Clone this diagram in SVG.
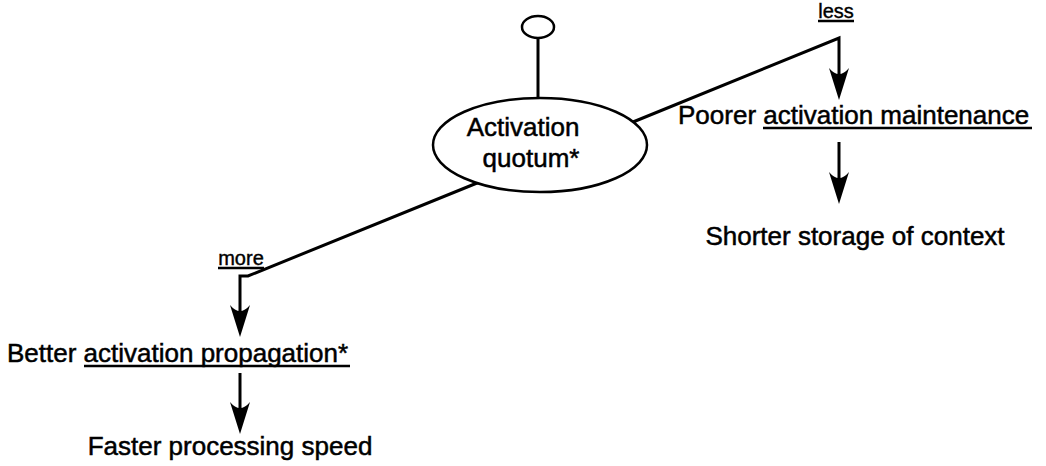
<svg xmlns="http://www.w3.org/2000/svg" width="1046" height="466" viewBox="0 0 1046 466">
  <defs>
    <style>
      .txt { font-family: "Liberation Sans", Arial, Helvetica, sans-serif; font-size: 26px; fill: #000; stroke: #000; stroke-width: 0.5; }
      .lbl { font-family: "Liberation Sans", Arial, Helvetica, sans-serif; font-size: 20px; fill: #000; stroke: #000; stroke-width: 0.4; }
      .ul { stroke: #000; stroke-width: 2.5; }
      .wire { fill: none; stroke: #000; stroke-width: 3; stroke-linejoin: miter; }
      .shape { fill: #fff; stroke: #000; stroke-width: 2.5; }
    </style>
    <!-- barbed arrowhead, tip at origin pointing down -->
    <path id="head" d="M0,0 L-10,-32 Q0,-20 10,-32 Z" fill="#000"/>
  </defs>
  <rect width="1046" height="466" fill="#fff"/>

  <g id="connectors">
    <!-- stem to the small terminal circle -->
    <line class="wire" x1="538" y1="38" x2="538" y2="99"/>
    <!-- "less" branch -->
    <polyline class="wire" points="633,122 839,38 839,86"/>
    <use href="#head" x="839" y="100"/>
    <line class="wire" x1="839" y1="142" x2="839" y2="190"/>
    <use href="#head" x="839" y="204"/>
    <!-- "more" branch -->
    <polyline class="wire" points="482,181 248,276 240,276 240,322"/>
    <use href="#head" x="240" y="337"/>
    <line class="wire" x1="240" y1="373" x2="240" y2="420"/>
    <use href="#head" x="240" y="434"/>
  </g>

  <g id="terminal">
    <ellipse class="shape" cx="538" cy="27" rx="16" ry="11"/>
  </g>

  <g id="quotum">
    <ellipse class="shape" cx="540" cy="145" rx="107" ry="47"/>
    <text class="txt" x="523" y="136" text-anchor="middle">Activation</text>
    <text class="txt" x="531" y="167" text-anchor="middle">quotum*</text>
  </g>

  <g id="label-less">
    <text class="lbl" x="836" y="18" text-anchor="middle">less</text>
    <line class="ul" x1="818" y1="21" x2="854" y2="21"/>
  </g>

  <g id="label-more">
    <text class="lbl" x="241" y="265" text-anchor="middle">more</text>
    <line class="ul" x1="218" y1="268" x2="264" y2="268"/>
  </g>

  <g id="maintenance">
    <text class="txt" x="678" y="124">Poorer activation maintenance</text>
    <line class="ul" x1="763" y1="128" x2="1032" y2="128"/>
  </g>

  <g id="storage">
    <text class="txt" x="855" y="245" text-anchor="middle">Shorter storage of context</text>
  </g>

  <g id="propagation">
    <text class="txt" x="7" y="362">Better activation propagation*</text>
    <line class="ul" x1="84" y1="366" x2="350" y2="366"/>
  </g>

  <g id="speed">
    <text class="txt" x="230" y="455" text-anchor="middle">Faster processing speed</text>
  </g>
</svg>
